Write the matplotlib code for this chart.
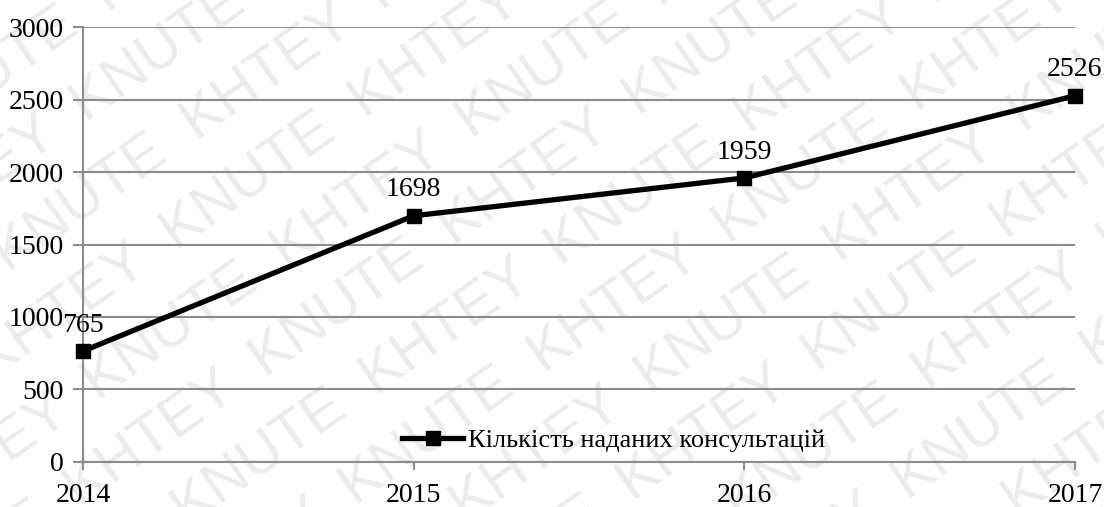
import numpy as np
import matplotlib
matplotlib.use("Agg")
import matplotlib.pyplot as plt

# Data
years = [2014, 2015, 2016, 2017]
consultations = [765, 1698, 1959, 2526]
series_name = "Кількість наданих консультацій"
y_ticks = [0, 500, 1000, 1500, 2000, 2500, 3000]
watermark_words = "KNUTE  KHTEY  "

plt.rcParams['font.family'] = ['Liberation Serif', 'DejaVu Serif']

fig = plt.figure(figsize=(11.04, 5.07), dpi=100)

# Watermark drawn in a background axes covering the whole figure
bg = fig.add_axes([0, 0, 1, 1], zorder=-10)
bg.set_xlim(0, 1104)
bg.set_ylim(0, 507)
bg.axis('off')
ang = np.deg2rad(35)
perp = np.array([-np.sin(ang), np.cos(ang)])
center = np.array([552, 253])
for k in range(-9, 10):
    px, py = center + k * 78 * perp
    shift = (k % 2) * 150
    px += shift * np.cos(ang)
    py += shift * np.sin(ang)
    bg.text(px, py, watermark_words * 6, rotation=35,
            rotation_mode='anchor', ha='center', va='center',
            fontsize=42, color='#ececec', family='Liberation Sans',
            clip_on=True)

ax = fig.add_axes([0.0752, 0.0888, 0.8985, 0.8579])
ax.patch.set_alpha(0)

grid_color = '#8c8c8c'
ax.plot(years, consultations, color='black', lw=3.8, marker='s', ms=10,
        clip_on=False, zorder=5, label=series_name)

for x, v in zip(years, consultations):
    ax.annotate(str(v), (x, v), xytext=(0, 14), textcoords='offset points',
                ha='center', va='baseline', fontsize=20, zorder=6)

ax.set_xlim(years[0], years[-1])
ax.set_ylim(0, 3000)
ax.set_xticks(years)
ax.set_yticks(y_ticks)
ax.yaxis.grid(True, color=grid_color, lw=1.5)
ax.set_axisbelow(True)

for side in ['top', 'right']:
    ax.spines[side].set_visible(False)
for side in ['left', 'bottom']:
    ax.spines[side].set_color(grid_color)
    ax.spines[side].set_linewidth(1.5)

ax.tick_params(axis='y', length=7, width=1.5, color=grid_color, pad=7, labelsize=20)
ax.tick_params(axis='x', length=6, width=1.5, color=grid_color, pad=9, labelsize=20)

ax.legend(loc='center', bbox_to_anchor=(0.535, 0.05), frameon=False,
          fontsize=19, handlelength=2.3, handletextpad=0.2)

fig.savefig("out.png", dpi=100)
